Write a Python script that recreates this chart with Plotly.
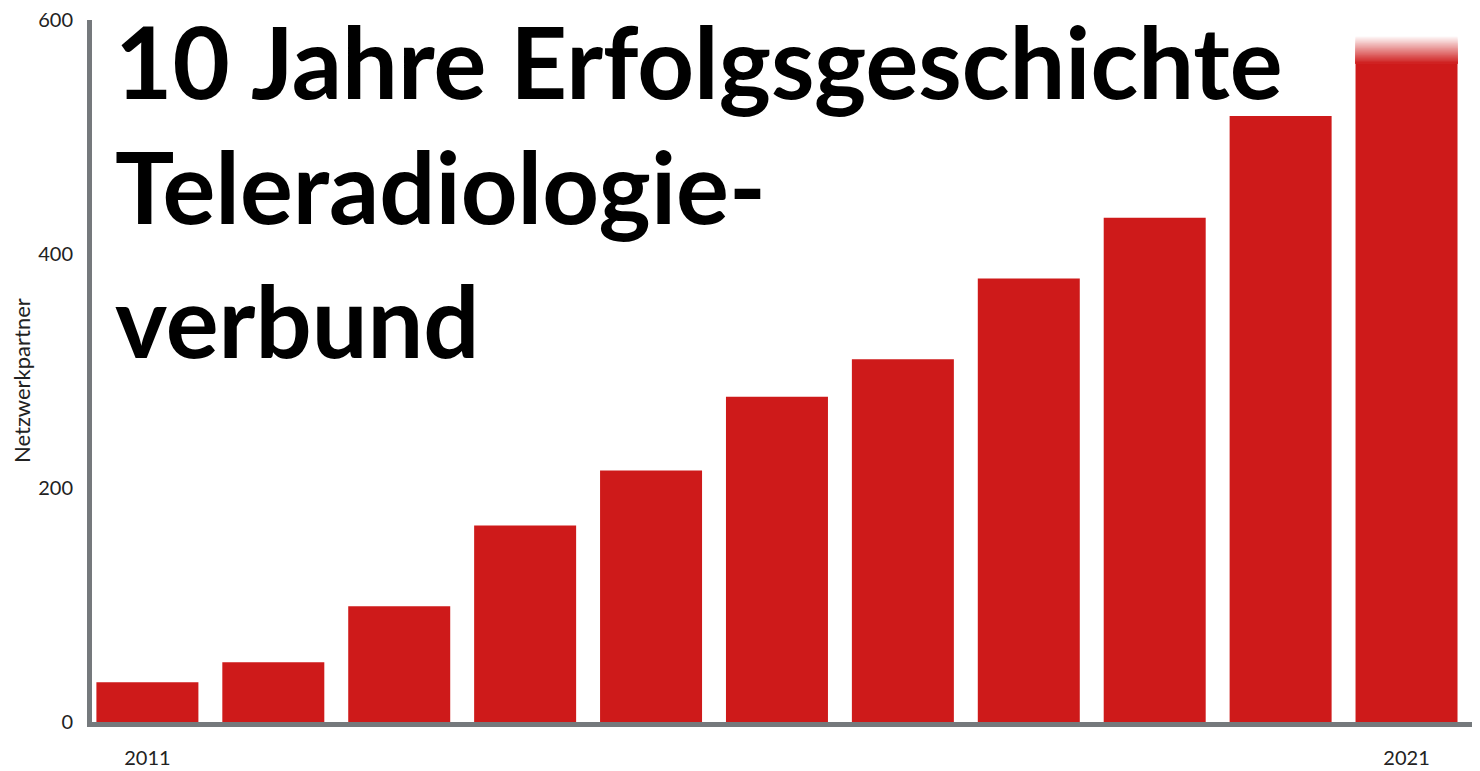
import plotly.graph_objects as go

# ---- data ----
years = ["2011", "2012", "2013", "2014", "2015", "2016", "2017", "2018", "2019", "2020", "2021"]
partners = [34, 51, 99, 168, 215, 278, 310, 379, 431, 518, 563]
fade_top_2021 = 586          # the 2021 bar fades out between its solid top and this value
y_tick_values = [0, 200, 400, 600]
x_tick_labels = ["2011", "2021"]
title_lines = ["10 Jahre Erfolgsgeschichte", "Teleradiologie-", "verbund"]
y_title = "Netzwerkpartner"

BAR_RED = (206, 26, 26)
AXIS_GREY = "#75797c"
TEXT_FONT = "Lato, 'Open Sans', sans-serif"

fig = go.Figure()
fig.add_trace(go.Bar(
    x=years, y=partners,
    marker=dict(color="rgb(%d,%d,%d)" % BAR_RED, line=dict(width=0)),
    hoverinfo="x+y", showlegend=False,
))

# fading top of the last bar: nested opaque layers, lightest/tallest first
n_steps = 28
solid = partners[-1]
step = (fade_top_2021 - solid) / n_steps
for i in range(n_steps, 0, -1):
    t = i / (n_steps + 1)            # 0 -> red, 1 -> white
    col = tuple(round(c + (255 - c) * t) for c in BAR_RED)
    fig.add_trace(go.Bar(
        x=[years[-1]], y=[i * step], base=[solid],
        marker=dict(color="rgb(%d,%d,%d)" % col, line=dict(width=0)),
        hoverinfo="skip", showlegend=False,
    ))

fig.update_layout(
    width=1480, height=771,
    margin=dict(l=92, r=8, t=20, b=49),
    paper_bgcolor="white", plot_bgcolor="white",
    barmode="overlay", bargap=0.19,
    showlegend=False,
    font=dict(family=TEXT_FONT, color="#222222"),
)
fig.update_xaxes(
    type="category", range=[-0.44, 10.52], automargin=False,
    tickvals=x_tick_labels, ticktext=x_tick_labels,
    showline=True, linecolor=AXIS_GREY, linewidth=5,
    showgrid=False, zeroline=False, ticks="",
    tickfont=dict(family=TEXT_FONT, size=20, color="#222222"),
    ticklabelstandoff=14,
)
fig.update_yaxes(
    range=[0, 600], tickvals=y_tick_values, automargin=False,
    showline=True, linecolor=AXIS_GREY, linewidth=5,
    showgrid=False, zeroline=False, ticks="",
    tickfont=dict(family=TEXT_FONT, size=20, color="#222222"),
    ticklabelstandoff=10,
)

# title, one annotation per line
plot_top, plot_bottom, plot_left, plot_w = 20, 722, 92, 1380
centers = [61, 186, 319]
for line, cy in zip(title_lines, centers):
    fig.add_annotation(
        text="<b>%s</b>" % line, xref="paper", yref="paper",
        x=(113 - plot_left) / plot_w, y=(plot_bottom - cy) / (plot_bottom - plot_top),
        xanchor="left", yanchor="middle", showarrow=False,
        font=dict(family=TEXT_FONT, size=99, color="black"),
    )

fig.add_annotation(
    text=y_title, xref="paper", yref="paper",
    x=(21 - plot_left) / plot_w, y=(plot_bottom - 381) / (plot_bottom - plot_top),
    xanchor="center", yanchor="middle", textangle=-90, showarrow=False,
    font=dict(family=TEXT_FONT, size=22, color="#222222"),
)

fig.write_html("out.html")
